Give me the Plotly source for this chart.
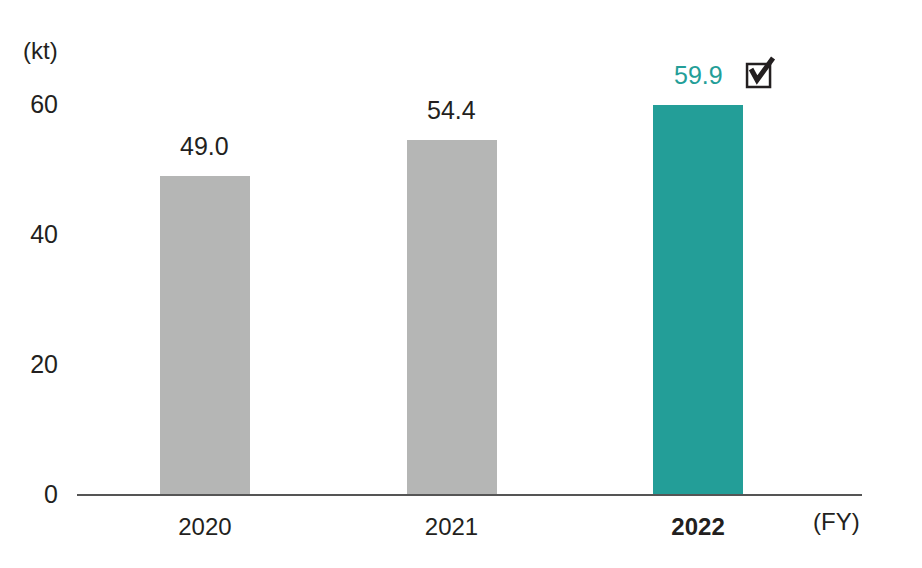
import plotly.graph_objects as go

years = ["2020", "2021", "2022"]
tick_labels = ["2020", "2021", "<b>2022</b>"]
values = [49.0, 54.4, 59.9]
bar_colors = ["#b5b6b5", "#b5b6b5", "#239e98"]
label_colors = ["#231f20", "#231f20", "#239e98"]

FONT = "Liberation Sans, Arial, sans-serif"
DARK = "#231f20"

fig = go.Figure()
fig.add_trace(go.Bar(
    x=[0, 1, 2], y=values, width=0.365,
    marker=dict(color=bar_colors, line=dict(width=0)),
    hoverinfo="skip", showlegend=False,
))

# value labels above the bars
for i, v in enumerate(values):
    fig.add_annotation(
        x=i, y=v, text=f"{v:.1f}", showarrow=False,
        xref="x", yref="y", yanchor="bottom", yshift=14,
        font=dict(family=FONT, size=25, color=label_colors[i]),
    )

# check box next to the latest value (pixel offsets from the plot top)
fig.add_shape(
    type="rect", xref="x", yref="paper", xsizemode="pixel", ysizemode="pixel",
    xanchor=2, yanchor=1, x0=49, x1=72, y0=17, y1=40,
    line=dict(color=DARK, width=2.5), fillcolor="rgba(0,0,0,0)",
)
fig.add_shape(
    type="path", xref="x", yref="paper", xsizemode="pixel", ysizemode="pixel",
    xanchor=2, yanchor=1,
    path="M 53,35 L 59,24 L 75,46",
    line=dict(color=DARK, width=5),
)

fig.add_annotation(
    x=0, y=1, xref="paper", yref="paper", text="(kt)", showarrow=False,
    xanchor="right", yanchor="bottom", xshift=-17, yshift=38,
    font=dict(family=FONT, size=24, color=DARK),
)
fig.add_annotation(
    x=1, y=0, xref="paper", yref="paper", text="(FY)", showarrow=False,
    xanchor="right", yanchor="top", yshift=-12,
    font=dict(family=FONT, size=24, color=DARK),
)

fig.update_xaxes(
    range=[-0.519, 2.665], tickvals=[0, 1, 2], ticktext=tick_labels,
    showline=True, linecolor="#555555", linewidth=1.5,
    showgrid=False, zeroline=False, ticks="", ticklabelstandoff=10,
    tickfont=dict(family=FONT, size=24, color=DARK),
)
fig.update_yaxes(
    range=[0, 60], tickvals=[0, 20, 40, 60],
    showline=False, showgrid=False, zeroline=False, ticks="",
    ticklabelstandoff=18,
    tickfont=dict(family=FONT, size=25, color=DARK),
)
fig.update_layout(
    width=922, height=568,
    margin=dict(l=69, r=68, t=96, b=82),
    plot_bgcolor="white", paper_bgcolor="white",
    bargap=0,
)
fig.write_html("out.html")
